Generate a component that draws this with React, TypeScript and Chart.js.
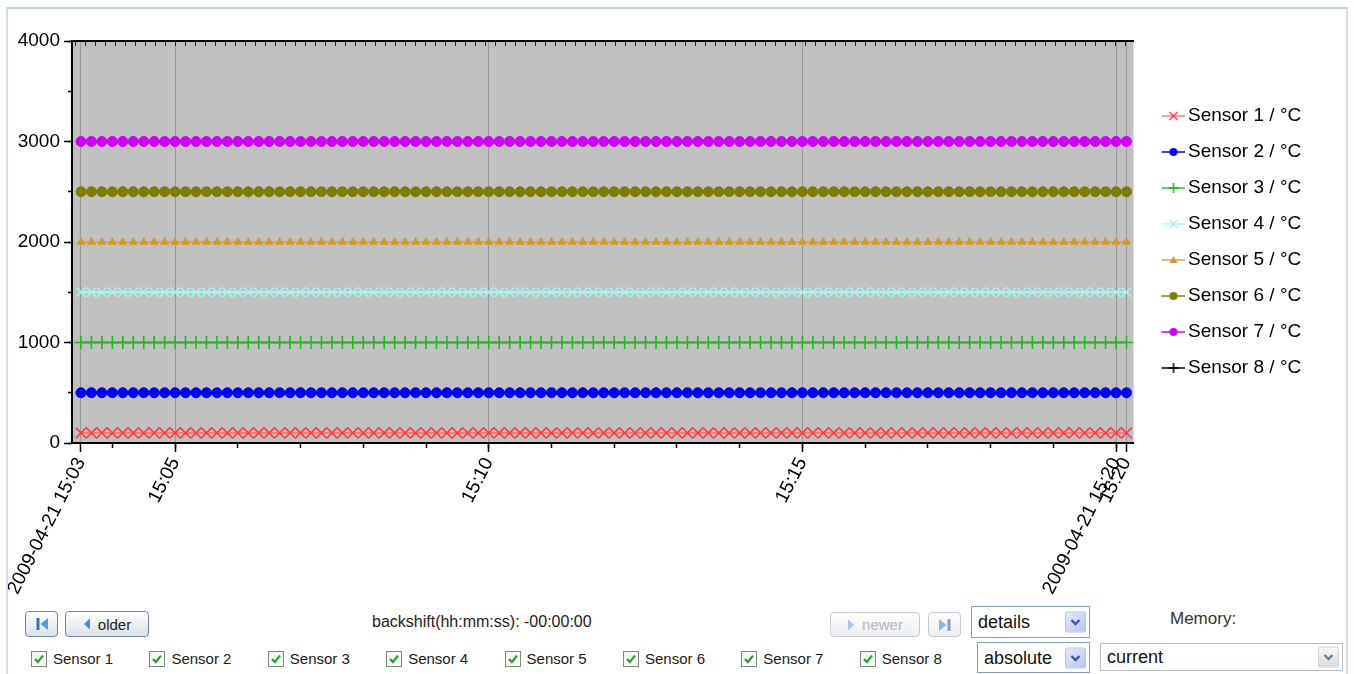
import React, { useEffect, useRef } from "react";
import { Chart, registerables } from "chart.js";

Chart.register(...registerables);

// ---------------- data ----------------
const DATE_LABEL = "2009-04-21";

const TIMES = [
  "15:03:30", "15:03:40", "15:03:50",
  "15:04:00", "15:04:10", "15:04:20", "15:04:30", "15:04:40", "15:04:50",
  "15:05:00", "15:05:10", "15:05:20", "15:05:30", "15:05:40", "15:05:50",
  "15:06:00", "15:06:10", "15:06:20", "15:06:30", "15:06:40", "15:06:50",
  "15:07:00", "15:07:10", "15:07:20", "15:07:30", "15:07:40", "15:07:50",
  "15:08:00", "15:08:10", "15:08:20", "15:08:30", "15:08:40", "15:08:50",
  "15:09:00", "15:09:10", "15:09:20", "15:09:30", "15:09:40", "15:09:50",
  "15:10:00", "15:10:10", "15:10:20", "15:10:30", "15:10:40", "15:10:50",
  "15:11:00", "15:11:10", "15:11:20", "15:11:30", "15:11:40", "15:11:50",
  "15:12:00", "15:12:10", "15:12:20", "15:12:30", "15:12:40", "15:12:50",
  "15:13:00", "15:13:10", "15:13:20", "15:13:30", "15:13:40", "15:13:50",
  "15:14:00", "15:14:10", "15:14:20", "15:14:30", "15:14:40", "15:14:50",
  "15:15:00", "15:15:10", "15:15:20", "15:15:30", "15:15:40", "15:15:50",
  "15:16:00", "15:16:10", "15:16:20", "15:16:30", "15:16:40", "15:16:50",
  "15:17:00", "15:17:10", "15:17:20", "15:17:30", "15:17:40", "15:17:50",
  "15:18:00", "15:18:10", "15:18:20", "15:18:30", "15:18:40", "15:18:50",
  "15:19:00", "15:19:10", "15:19:20", "15:19:30", "15:19:40", "15:19:50",
  "15:20:00", "15:20:10",
];

const SENSOR_1 = [
  100, 100, 100, 100, 100, 100, 100, 100, 100, 100,
  100, 100, 100, 100, 100, 100, 100, 100, 100, 100,
  100, 100, 100, 100, 100, 100, 100, 100, 100, 100,
  100, 100, 100, 100, 100, 100, 100, 100, 100, 100,
  100, 100, 100, 100, 100, 100, 100, 100, 100, 100,
  100, 100, 100, 100, 100, 100, 100, 100, 100, 100,
  100, 100, 100, 100, 100, 100, 100, 100, 100, 100,
  100, 100, 100, 100, 100, 100, 100, 100, 100, 100,
  100, 100, 100, 100, 100, 100, 100, 100, 100, 100,
  100, 100, 100, 100, 100, 100, 100, 100, 100, 100,
  100,
];
const SENSOR_2 = [
  500, 500, 500, 500, 500, 500, 500, 500, 500, 500,
  500, 500, 500, 500, 500, 500, 500, 500, 500, 500,
  500, 500, 500, 500, 500, 500, 500, 500, 500, 500,
  500, 500, 500, 500, 500, 500, 500, 500, 500, 500,
  500, 500, 500, 500, 500, 500, 500, 500, 500, 500,
  500, 500, 500, 500, 500, 500, 500, 500, 500, 500,
  500, 500, 500, 500, 500, 500, 500, 500, 500, 500,
  500, 500, 500, 500, 500, 500, 500, 500, 500, 500,
  500, 500, 500, 500, 500, 500, 500, 500, 500, 500,
  500, 500, 500, 500, 500, 500, 500, 500, 500, 500,
  500,
];
const SENSOR_3 = [
  1000, 1000, 1000, 1000, 1000, 1000, 1000, 1000, 1000, 1000,
  1000, 1000, 1000, 1000, 1000, 1000, 1000, 1000, 1000, 1000,
  1000, 1000, 1000, 1000, 1000, 1000, 1000, 1000, 1000, 1000,
  1000, 1000, 1000, 1000, 1000, 1000, 1000, 1000, 1000, 1000,
  1000, 1000, 1000, 1000, 1000, 1000, 1000, 1000, 1000, 1000,
  1000, 1000, 1000, 1000, 1000, 1000, 1000, 1000, 1000, 1000,
  1000, 1000, 1000, 1000, 1000, 1000, 1000, 1000, 1000, 1000,
  1000, 1000, 1000, 1000, 1000, 1000, 1000, 1000, 1000, 1000,
  1000, 1000, 1000, 1000, 1000, 1000, 1000, 1000, 1000, 1000,
  1000, 1000, 1000, 1000, 1000, 1000, 1000, 1000, 1000, 1000,
  1000,
];
const SENSOR_4 = [
  1500, 1500, 1500, 1500, 1500, 1500, 1500, 1500, 1500, 1500,
  1500, 1500, 1500, 1500, 1500, 1500, 1500, 1500, 1500, 1500,
  1500, 1500, 1500, 1500, 1500, 1500, 1500, 1500, 1500, 1500,
  1500, 1500, 1500, 1500, 1500, 1500, 1500, 1500, 1500, 1500,
  1500, 1500, 1500, 1500, 1500, 1500, 1500, 1500, 1500, 1500,
  1500, 1500, 1500, 1500, 1500, 1500, 1500, 1500, 1500, 1500,
  1500, 1500, 1500, 1500, 1500, 1500, 1500, 1500, 1500, 1500,
  1500, 1500, 1500, 1500, 1500, 1500, 1500, 1500, 1500, 1500,
  1500, 1500, 1500, 1500, 1500, 1500, 1500, 1500, 1500, 1500,
  1500, 1500, 1500, 1500, 1500, 1500, 1500, 1500, 1500, 1500,
  1500,
];
const SENSOR_5 = [
  2000, 2000, 2000, 2000, 2000, 2000, 2000, 2000, 2000, 2000,
  2000, 2000, 2000, 2000, 2000, 2000, 2000, 2000, 2000, 2000,
  2000, 2000, 2000, 2000, 2000, 2000, 2000, 2000, 2000, 2000,
  2000, 2000, 2000, 2000, 2000, 2000, 2000, 2000, 2000, 2000,
  2000, 2000, 2000, 2000, 2000, 2000, 2000, 2000, 2000, 2000,
  2000, 2000, 2000, 2000, 2000, 2000, 2000, 2000, 2000, 2000,
  2000, 2000, 2000, 2000, 2000, 2000, 2000, 2000, 2000, 2000,
  2000, 2000, 2000, 2000, 2000, 2000, 2000, 2000, 2000, 2000,
  2000, 2000, 2000, 2000, 2000, 2000, 2000, 2000, 2000, 2000,
  2000, 2000, 2000, 2000, 2000, 2000, 2000, 2000, 2000, 2000,
  2000,
];
const SENSOR_6 = [
  2500, 2500, 2500, 2500, 2500, 2500, 2500, 2500, 2500, 2500,
  2500, 2500, 2500, 2500, 2500, 2500, 2500, 2500, 2500, 2500,
  2500, 2500, 2500, 2500, 2500, 2500, 2500, 2500, 2500, 2500,
  2500, 2500, 2500, 2500, 2500, 2500, 2500, 2500, 2500, 2500,
  2500, 2500, 2500, 2500, 2500, 2500, 2500, 2500, 2500, 2500,
  2500, 2500, 2500, 2500, 2500, 2500, 2500, 2500, 2500, 2500,
  2500, 2500, 2500, 2500, 2500, 2500, 2500, 2500, 2500, 2500,
  2500, 2500, 2500, 2500, 2500, 2500, 2500, 2500, 2500, 2500,
  2500, 2500, 2500, 2500, 2500, 2500, 2500, 2500, 2500, 2500,
  2500, 2500, 2500, 2500, 2500, 2500, 2500, 2500, 2500, 2500,
  2500,
];
const SENSOR_7 = [
  3000, 3000, 3000, 3000, 3000, 3000, 3000, 3000, 3000, 3000,
  3000, 3000, 3000, 3000, 3000, 3000, 3000, 3000, 3000, 3000,
  3000, 3000, 3000, 3000, 3000, 3000, 3000, 3000, 3000, 3000,
  3000, 3000, 3000, 3000, 3000, 3000, 3000, 3000, 3000, 3000,
  3000, 3000, 3000, 3000, 3000, 3000, 3000, 3000, 3000, 3000,
  3000, 3000, 3000, 3000, 3000, 3000, 3000, 3000, 3000, 3000,
  3000, 3000, 3000, 3000, 3000, 3000, 3000, 3000, 3000, 3000,
  3000, 3000, 3000, 3000, 3000, 3000, 3000, 3000, 3000, 3000,
  3000, 3000, 3000, 3000, 3000, 3000, 3000, 3000, 3000, 3000,
  3000, 3000, 3000, 3000, 3000, 3000, 3000, 3000, 3000, 3000,
  3000,
];
const SENSOR_8: number[] = [];

const SERIES_NAMES = [
  "Sensor 1 / °C", "Sensor 2 / °C", "Sensor 3 / °C", "Sensor 4 / °C",
  "Sensor 5 / °C", "Sensor 6 / °C", "Sensor 7 / °C", "Sensor 8 / °C",
];
const SERIES_VALUES = [SENSOR_1, SENSOR_2, SENSOR_3, SENSOR_4, SENSOR_5, SENSOR_6, SENSOR_7, SENSOR_8];

const X_MIN = "15:03:21.4";
const X_MAX = "15:20:16.7";
const X_TICK_TIMES = ["15:03:30", "15:05:00", "15:10:00", "15:15:00", "15:20:00", "15:20:10"];
const X_TICK_LABELS = [DATE_LABEL + " 15:03", "15:05", "15:10", "15:15", DATE_LABEL + " 15:20", "15:20"];
const Y_TICK_LABELS = ["0", "1000", "2000", "3000", "4000"];
const Y_MIN = 0;
const Y_MAX = 4000;

const CHECKBOX_LABELS = ["Sensor 1", "Sensor 2", "Sensor 3", "Sensor 4", "Sensor 5", "Sensor 6", "Sensor 7", "Sensor 8"];

// ---------------- styles ----------------
const FONT = "'Liberation Sans', Arial, Helvetica, sans-serif";
const CHART_FONT_SIZE = 19;
const CANVAS_W = 1330;
const CANVAS_H = 586;
const PLOT_RIGHT = 1126; // canvas x where the plot area should end
const LEGEND_PAD = 17;
const LEGEND_BOX = 28;

type Shape = "circle" | "cross" | "crossRot" | "triangle";
const SERIES_STYLES: { line: string; point: string; fill: string; shape: Shape; r: number; pw: number }[] = [
  { line: "rgba(244,120,125,0.95)", point: "#ff3a44", fill: "rgba(255,120,120,0.25)", shape: "crossRot", r: 7.5, pw: 1.6 },
  { line: "#0000f0", point: "#0000f0", fill: "#0000f0", shape: "circle", r: 5, pw: 1 },
  { line: "#2fc42f", point: "#20b820", fill: "#20b820", shape: "cross", r: 6.5, pw: 1.6 },
  { line: "#b4f6f6", point: "#a6f2f2", fill: "#a6f2f2", shape: "crossRot", r: 6.5, pw: 1.6 },
  { line: "#d6a84a", point: "#cf9a30", fill: "#cf9a30", shape: "triangle", r: 4.4, pw: 1 },
  { line: "#808000", point: "#7c7c00", fill: "#7c7c00", shape: "circle", r: 5, pw: 1 },
  { line: "#cc00f4", point: "#cc00f4", fill: "#cc00f4", shape: "circle", r: 5, pw: 1 },
  { line: "#000000", point: "#000000", fill: "#000000", shape: "cross", r: 6, pw: 1.6 },
];

const toSec = (t: string) => {
  const [h, m, s] = t.split(":").map(Number);
  return h * 3600 + m * 60 + s;
};

function makeLegendIcon(st: (typeof SERIES_STYLES)[number]) {
  const c = document.createElement("canvas");
  c.width = 40;
  c.height = 20;
  const g = c.getContext("2d")!;
  g.strokeStyle = st.line;
  g.lineWidth = 1.5;
  g.beginPath();
  g.moveTo(17, 10);
  g.lineTo(40, 10);
  g.stroke();
  const cx = 29;
  const cy = 10;
  g.fillStyle = st.fill;
  g.strokeStyle = st.point;
  g.lineWidth = 1.5;
  if (st.shape === "circle") {
    g.beginPath();
    g.arc(cx, cy, 4, 0, Math.PI * 2);
    g.fill();
  } else if (st.shape === "triangle") {
    g.beginPath();
    g.moveTo(cx, cy - 4);
    g.lineTo(cx + 4, cy + 3);
    g.lineTo(cx - 4, cy + 3);
    g.closePath();
    g.fill();
  } else if (st.shape === "cross") {
    g.beginPath();
    g.moveTo(cx - 5, cy);
    g.lineTo(cx + 5, cy);
    g.moveTo(cx, cy - 5);
    g.lineTo(cx, cy + 5);
    g.stroke();
  } else {
    g.beginPath();
    g.moveTo(cx - 4, cy - 4);
    g.lineTo(cx + 4, cy + 4);
    g.moveTo(cx - 4, cy + 4);
    g.lineTo(cx + 4, cy - 4);
    g.stroke();
  }
  return c;
}

const plotBackground = {
  id: "plotBackground",
  beforeDraw(chart: any) {
    const { ctx, chartArea } = chart;
    ctx.save();
    ctx.fillStyle = "#c0c0c0";
    ctx.fillRect(chartArea.left, chartArea.top, chartArea.right - chartArea.left, chartArea.bottom - chartArea.top);
    ctx.restore();
  },
};

function SensorChart() {
  const ref = useRef<HTMLCanvasElement | null>(null);
  useEffect(() => {
    if (!ref.current) return;
    const icons = SERIES_STYLES.map(makeLegendIcon);
    // natural legend width, so that the plot area ends where it should
    const mc = document.createElement("canvas").getContext("2d")!;
    mc.font = `${CHART_FONT_SIZE}px ${FONT}`;
    const widest = Math.max(...SERIES_NAMES.map((n) => mc.measureText(n).width));
    const legendW = LEGEND_PAD + LEGEND_BOX + CHART_FONT_SIZE + widest;
    const rightPad = Math.max(0, CANVAS_W - PLOT_RIGHT - legendW);

    const tickFont = { family: FONT, size: CHART_FONT_SIZE };
    const chart = new Chart(ref.current, {
      type: "line",
      data: {
        datasets: SERIES_VALUES.map((vals, i) => {
          const st = SERIES_STYLES[i];
          return {
            label: SERIES_NAMES[i],
            data: vals.map((v, j) => ({ x: toSec(TIMES[j]), y: v })),
            xAxisID: "x",
            yAxisID: "y",
            borderColor: st.line,
            backgroundColor: st.fill,
            borderWidth: 2,
            pointStyle: st.shape,
            pointRadius: st.r,
            pointBorderColor: st.point,
            pointBackgroundColor: st.fill,
            pointBorderWidth: st.pw,
            fill: false,
            tension: 0,
          };
        }),
      },
      options: {
        animation: false,
        responsive: false,
        events: [],
        layout: { padding: { top: 21, right: rightPad, bottom: 0, left: 0 } },
        plugins: {
          tooltip: { enabled: false },
          title: { display: false },
          legend: {
            display: true,
            position: "right",
            align: "center",
            fullSize: false,
            labels: {
              usePointStyle: true,
              pointStyleWidth: LEGEND_BOX,
              padding: LEGEND_PAD,
              color: "#000",
              font: { family: FONT, size: CHART_FONT_SIZE },
              generateLabels: (ch: any) =>
                ch.data.datasets.map((ds: any, i: number) => ({
                  text: ds.label,
                  pointStyle: icons[i],
                  fillStyle: "rgba(0,0,0,0)",
                  strokeStyle: "rgba(0,0,0,0)",
                  lineWidth: 0,
                  hidden: false,
                  datasetIndex: i,
                  fontColor: "#000",
                })),
            },
          },
        },
        scales: {
          x: {
            type: "linear",
            position: "bottom",
            weight: 0,
            min: toSec(X_MIN),
            max: toSec(X_MAX),
            afterBuildTicks: (ax: any) => {
              ax.ticks = X_TICK_TIMES.map((t) => ({ value: toSec(t) }));
            },
            afterFit: (ax: any) => {
              ax.height = CANVAS_H - 423;
            },
            ticks: {
              autoSkip: false,
              minRotation: 63,
              maxRotation: 63,
              padding: 2,
              color: "#000",
              font: tickFont,
              callback: (_v: any, i: number) => X_TICK_LABELS[i],
            },
            grid: {
              drawOnChartArea: true,
              color: "#999999",
              lineWidth: 1,
              tickLength: 9,
              tickColor: "#000",
              tickWidth: 1.5,
            },
            border: { display: true, color: "#000", width: 2 },
          },
          xMinor: {
            type: "linear",
            position: "bottom",
            weight: -1,
            min: toSec(X_MIN),
            max: toSec(X_MAX),
            afterFit: (ax: any) => {
              ax.height = 0;
            },
            ticks: { display: false, stepSize: 60, includeBounds: false },
            grid: { drawOnChartArea: false, tickLength: 5, tickColor: "#000", tickWidth: 1.5 },
            border: { display: false },
          },
          xTop: {
            type: "linear",
            position: "top",
            min: -1.4,
            max: 104.8,
            afterFit: (ax: any) => {
              ax.height = 0;
            },
            ticks: { display: false, stepSize: 1, includeBounds: false },
            grid: { drawOnChartArea: false, tickLength: -5, tickColor: "#222", tickWidth: 1 },
            border: { display: true, color: "#000", width: 2 },
          },
          y: {
            type: "linear",
            position: "left",
            weight: 0,
            min: Y_MIN,
            max: Y_MAX,
            afterBuildTicks: (ax: any) => {
              ax.ticks = Y_TICK_LABELS.map((v) => ({ value: Number(v) }));
            },
            afterFit: (ax: any) => {
              ax.width = 64;
            },
            ticks: {
              padding: 4,
              color: "#000",
              font: tickFont,
              callback: (_v: any, i: number) => Y_TICK_LABELS[i],
            },
            grid: { drawOnChartArea: false, tickLength: 8, tickColor: "#000", tickWidth: 1.5 },
            border: { display: true, color: "#000", width: 2 },
          },
          yMinor: {
            type: "linear",
            position: "left",
            weight: -1,
            min: Y_MIN,
            max: Y_MAX,
            afterFit: (ax: any) => {
              ax.width = 0;
            },
            ticks: { display: false, stepSize: 500 },
            grid: { drawOnChartArea: false, tickLength: 4, tickColor: "#000", tickWidth: 1.5 },
            border: { display: false },
          },
        },
      } as any,
      plugins: [plotBackground],
    });
    return () => chart.destroy();
  }, []);
  return (
    <canvas
      ref={ref}
      width={CANVAS_W}
      height={CANVAS_H}
      style={{ position: "absolute", left: 8, top: 20, width: CANVAS_W, height: CANVAS_H }}
    />
  );
}

// ---------------- controls ----------------
function Btn(props: { left: number; top: number; width: number; height: number; disabled?: boolean; children: any }) {
  const { left, top, width, height, disabled, children } = props;
  return (
    <div
      style={{
        position: "absolute",
        left,
        top,
        width,
        height,
        boxSizing: "border-box",
        border: `1px solid ${disabled ? "#c6cbd4" : "#6d84ad"}`,
        borderRadius: 4,
        background: disabled ? "linear-gradient(#fdfdfd,#eceef2)" : "linear-gradient(#ffffff,#dbe0e9)",
        display: "flex",
        alignItems: "center",
        justifyContent: "center",
        gap: 7,
        fontSize: 15,
        fontFamily: FONT,
        color: disabled ? "#b3b8c1" : "#1c1c1c",
      }}
    >
      {children}
    </div>
  );
}

function Select(props: { left: number; top: number; width: number; height: number; text: string; blue?: boolean }) {
  const { left, top, width, height, text, blue } = props;
  return (
    <div
      style={{
        position: "absolute",
        left,
        top,
        width,
        height,
        boxSizing: "border-box",
        border: `1px solid ${blue ? "#7f9dc9" : "#b8bcc4"}`,
        background: "#fff",
        fontFamily: FONT,
        fontSize: 18,
        color: "#111",
      }}
    >
      <span style={{ position: "absolute", left: 6, top: "50%", transform: "translateY(-50%)", lineHeight: 1 }}>{text}</span>
      <div
        style={{
          position: "absolute",
          right: 3,
          top: "50%",
          transform: "translateY(-50%)",
          width: 21,
          height: 21,
          boxSizing: "border-box",
          border: `1px solid ${blue ? "#b4c3ee" : "#d2d2d2"}`,
          borderRadius: 2,
          background: blue ? "linear-gradient(135deg,#e3eafd,#b7c5f3)" : "linear-gradient(#f6f6f6,#dcdcdc)",
        }}
      >
        <svg width="19" height="19" style={{ position: "absolute", left: 0, top: 0 }}>
          <polyline
            points="5.5,7.5 9.5,11.5 13.5,7.5"
            fill="none"
            stroke={blue ? "#3d56a6" : "#6f7f9f"}
            strokeWidth="2.4"
          />
        </svg>
      </div>
    </div>
  );
}

function CheckItem(props: { label: string }) {
  return (
    <div style={{ width: 118.4, display: "flex", alignItems: "center", flex: "0 0 auto" }}>
      <svg width="16" height="16" style={{ flex: "0 0 auto" }}>
        <defs>
          <linearGradient id="cbg" x1="0" y1="0" x2="1" y2="1">
            <stop offset="0" stopColor="#eef0ee" />
            <stop offset="1" stopColor="#ffffff" />
          </linearGradient>
        </defs>
        <rect x="0.5" y="0.5" width="15" height="15" fill="url(#cbg)" stroke="#7c8a7c" />
        <polyline points="4,8 6.8,11 12,4.6" fill="none" stroke="#23a623" strokeWidth="2.2" />
      </svg>
      <span style={{ marginLeft: 6, fontSize: 15, fontFamily: FONT, color: "#1a1a1a", whiteSpace: "nowrap" }}>{props.label}</span>
    </div>
  );
}

export default function App() {
  return (
    <div
      style={{
        position: "absolute",
        left: 0,
        top: 0,
        width: 1354,
        height: 674,
        overflow: "hidden",
        background: "#fff",
        fontFamily: FONT,
      }}
    >
      <div
        style={{
          position: "absolute",
          left: 6,
          top: 7,
          width: 1342,
          height: 700,
          boxSizing: "border-box",
          borderTop: "2px solid #b3d0ee",
          borderLeft: "2px solid #cfe0f2",
          borderRight: "2px solid #cfe0f2",
        }}
      />
      <SensorChart />

      <Btn left={25} top={611} width={33} height={26}>
        <svg width="14" height="14">
          <rect x="1.5" y="1" width="3" height="12" fill="#3a72c2" />
          <polygon points="13,1 5.5,7 13,13" fill="#5c9ae0" />
        </svg>
      </Btn>
      <Btn left={65} top={611} width={84} height={26}>
        <svg width="8" height="12">
          <polygon points="7,0.5 1,6 7,11.5" fill="#4a8ad8" />
        </svg>
        <span>older</span>
      </Btn>
      <div style={{ position: "absolute", left: 372, top: 613, fontSize: 16, color: "#222", whiteSpace: "nowrap" }}>
        backshift(hh:mm:ss): -00:00:00
      </div>
      <Btn left={830} top={612} width={90} height={25} disabled>
        <svg width="8" height="12">
          <polygon points="1,0.5 7,6 1,11.5" fill="#a9c4ea" />
        </svg>
        <span>newer</span>
      </Btn>
      <Btn left={928} top={612} width={33} height={25} disabled>
        <svg width="14" height="14">
          <polygon points="1,1 8.5,7 1,13" fill="#8db3ea" />
          <rect x="9.5" y="1" width="3" height="12" fill="#7c9fd4" />
        </svg>
      </Btn>
      <Select left={971} top={606} width={119} height={32} text="details" blue />
      <div style={{ position: "absolute", left: 1170, top: 609, fontSize: 17, color: "#333", whiteSpace: "nowrap" }}>Memory:</div>

      <div style={{ position: "absolute", left: 31, top: 650, display: "flex", alignItems: "center", height: 17 }}>
        {CHECKBOX_LABELS.map((l) => (
          <CheckItem key={l} label={l} />
        ))}
      </div>
      <Select left={977} top={642} width={113} height={31} text="absolute" blue />
      <Select left={1100} top={643} width={243} height={28} text="current" />
    </div>
  );
}
